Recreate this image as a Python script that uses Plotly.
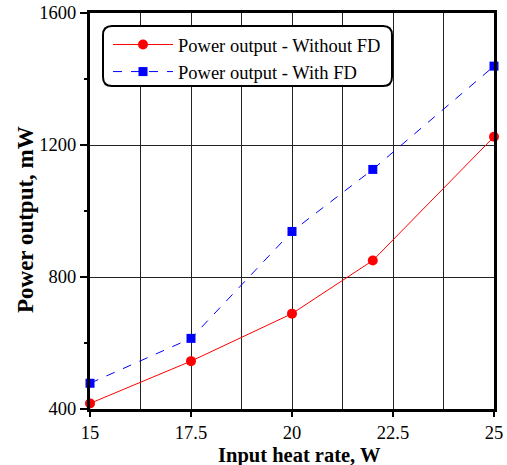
import plotly.graph_objects as go

heat_rate = [15, 17.5, 20, 22, 25]
power_without_fd = [417, 545, 689, 850, 1225]
power_with_fd = [478, 614, 938, 1126, 1439]
x_ticks = [15, 17.5, 20, 22.5, 25]
x_tick_labels = ["15", "17.5", "20", "22.5", "25"]
y_ticks = [400, 800, 1200, 1600]

FONT = "Liberation Serif, Times New Roman, serif"

fig = go.Figure()
fig.add_trace(go.Scatter(
    x=heat_rate, y=power_without_fd, mode="lines+markers",
    name="Power output - Without FD",
    line=dict(color="#ff0000", width=1),
    marker=dict(symbol="circle", size=10, color="#ff0000"),
    cliponaxis=False,
))
fig.add_trace(go.Scatter(
    x=heat_rate, y=power_with_fd, mode="lines+markers",
    name="Power output - With FD",
    line=dict(color="#0000ff", width=1, dash="dash"),
    marker=dict(symbol="square", size=9, color="#0000ff"),
    cliponaxis=False,
))

W, H = 507, 465
L, R, T, B = 90, 13, 13, 56
pw, ph = W - L - R, H - T - B

def px2paper(x, y):
    return (x - L) / pw, (H - B - y) / ph

x0, y0 = px2paper(103, 26)
x1, y1 = px2paper(392, 86)
rx, ry = 9 / pw, 9 / ph
path = (f"M {x0+rx},{y0} L {x1-rx},{y0} Q {x1},{y0} {x1},{y0-ry} "
        f"L {x1},{y1+ry} Q {x1},{y1} {x1-rx},{y1} L {x0+rx},{y1} "
        f"Q {x0},{y1} {x0},{y1+ry} L {x0},{y0-ry} Q {x0},{y0} {x0+rx},{y0} Z")

xt = px2paper(299, 455)
yt = px2paper(25, 220)

fig.update_layout(
    width=W, height=H,
    margin=dict(l=L, r=R, t=T, b=B, autoexpand=False),
    paper_bgcolor="white", plot_bgcolor="white",
    font=dict(family=FONT, color="black", size=18.5),
    showlegend=True,
    legend=dict(
        x=(108 - L) / pw, y=px2paper(0, 26)[1], xanchor="left", yanchor="top",
        bgcolor="rgba(0,0,0,0)", borderwidth=0,
        font=dict(family=FONT, size=18.5, color="black"),
        itemwidth=60, tracegroupgap=0,
    ),
    shapes=[dict(type="path", path=path, xref="paper", yref="paper",
                 line=dict(color="black", width=2), fillcolor="white",
                 layer="above")],
    annotations=[
        dict(text="<b>Input heat rate, W</b>", xref="paper", yref="paper",
             x=xt[0], y=xt[1], xanchor="center", yanchor="middle", showarrow=False,
             font=dict(family=FONT, size=20.5)),
        dict(text="<b>Power output, mW</b>", xref="paper", yref="paper",
             x=yt[0], y=yt[1], xanchor="center", yanchor="middle", showarrow=False,
             textangle=-90, font=dict(family=FONT, size=23)),
    ],
    xaxis=dict(
        range=[15, 25], tickvals=x_ticks, ticktext=x_tick_labels,
        ticks="outside", ticklen=5, tickwidth=2, tickcolor="black",
        showline=True, linewidth=3, linecolor="black", mirror=True,
        showgrid=True, gridcolor="#222", gridwidth=1,
        minor=dict(dtick=1.25, tick0=15, showgrid=True, gridcolor="#222", gridwidth=1, ticks=""),
        zeroline=False, automargin=False,
        tickfont=dict(family=FONT, size=18.5),
    ),
    yaxis=dict(
        range=[400, 1600], tickvals=y_ticks,
        ticks="outside", ticklen=7, tickwidth=2, tickcolor="black",
        showline=True, linewidth=3, linecolor="black", mirror=True,
        showgrid=True, gridcolor="#222", gridwidth=1,
        minor=dict(dtick=200, tick0=400, showgrid=False, ticks="outside", ticklen=3, tickwidth=2, tickcolor="black"),
        zeroline=False, automargin=False,
        tickfont=dict(family=FONT, size=18.5),
    ),
)

fig.write_html("out.html")
